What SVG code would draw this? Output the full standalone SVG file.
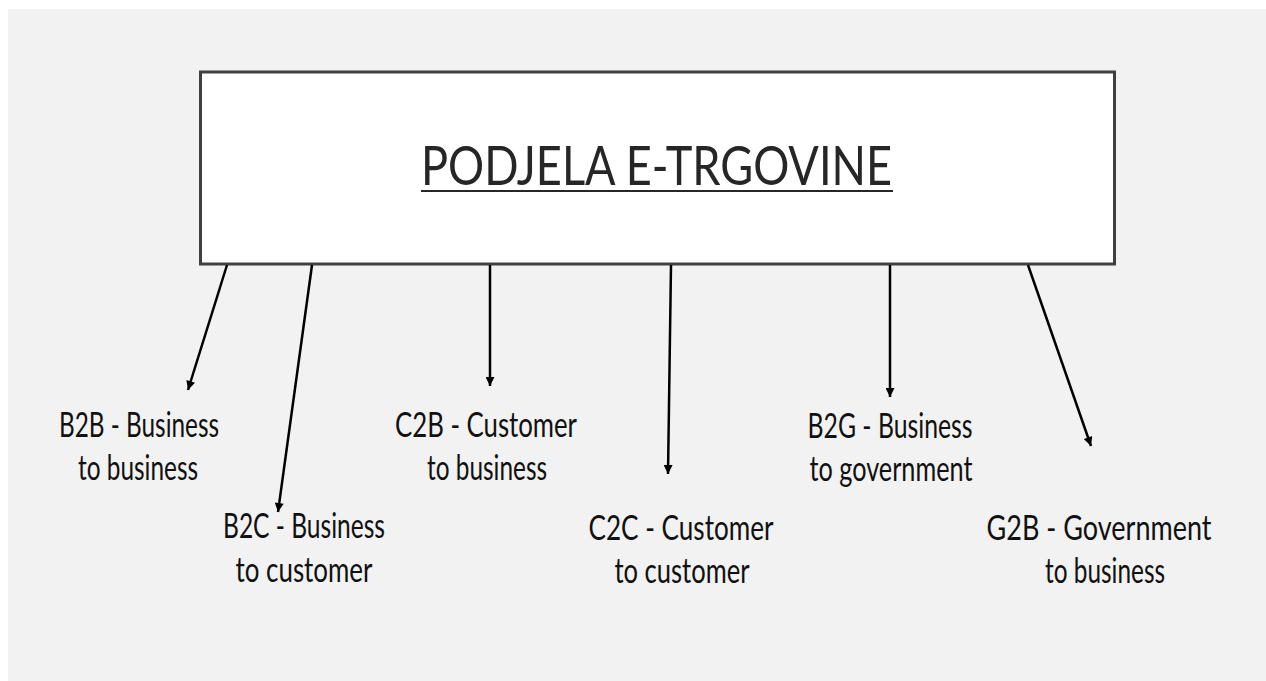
<svg xmlns="http://www.w3.org/2000/svg" width="1266" height="681" viewBox="0 0 1266 681">
  <defs>
    <marker id="ah" viewBox="0 0 10 10" refX="10" refY="5" markerWidth="11" markerHeight="9" markerUnits="userSpaceOnUse" orient="auto">
      <path d="M0,0 L10,5 L0,10 z" fill="#000"/>
    </marker>
    <style>
      .lbl { font-family: Lato, "Open Sans", sans-serif; font-size: 34px; fill: #111; text-anchor: middle; }
      .title { font-family: Lato, "Open Sans", sans-serif; font-size: 55px; fill: #262626; }
      .conn line { stroke: #000; stroke-width: 2.5; marker-end: url(#ah); }
    </style>
  </defs>
  <rect x="0" y="0" width="1266" height="681" fill="#ffffff"/>
  <rect x="8" y="9" width="1258" height="672" fill="#f2f2f2"/>

  <g id="root">
    <rect x="200.5" y="72" width="914" height="192" fill="#ffffff" stroke="#404040" stroke-width="3"/>
    <text class="title" x="421" y="185" textLength="471" lengthAdjust="spacingAndGlyphs">PODJELA E-TRGOVINE</text>
    <line x1="421" y1="191" x2="893" y2="191" stroke="#262626" stroke-width="2"/>
  </g>

  <g id="connectors" class="conn">
    <line x1="227" y1="265" x2="188" y2="390"/>
    <line x1="312" y1="265" x2="278" y2="512"/>
    <line x1="490" y1="265" x2="490" y2="386"/>
    <line x1="671" y1="265" x2="668" y2="474"/>
    <line x1="890" y1="265" x2="890" y2="397"/>
    <line x1="1028" y1="265" x2="1091" y2="446"/>
  </g>

  <g id="b2b">
    <text class="lbl" x="139" y="437" textLength="160" lengthAdjust="spacingAndGlyphs">B2B - Business</text>
    <text class="lbl" x="138" y="480" textLength="120" lengthAdjust="spacingAndGlyphs">to business</text>
  </g>
  <g id="b2c">
    <text class="lbl" x="304" y="538" textLength="162" lengthAdjust="spacingAndGlyphs">B2C - Business</text>
    <text class="lbl" x="304" y="582" textLength="137" lengthAdjust="spacingAndGlyphs">to customer</text>
  </g>
  <g id="c2b">
    <text class="lbl" x="486" y="437" textLength="182" lengthAdjust="spacingAndGlyphs">C2B - Customer</text>
    <text class="lbl" x="487" y="480" textLength="120" lengthAdjust="spacingAndGlyphs">to business</text>
  </g>
  <g id="c2c">
    <text class="lbl" x="681" y="540" textLength="185" lengthAdjust="spacingAndGlyphs">C2C - Customer</text>
    <text class="lbl" x="682" y="583" textLength="135" lengthAdjust="spacingAndGlyphs">to customer</text>
  </g>
  <g id="b2g">
    <text class="lbl" x="890" y="438" textLength="165" lengthAdjust="spacingAndGlyphs">B2G - Business</text>
    <text class="lbl" x="891" y="481" textLength="163" lengthAdjust="spacingAndGlyphs">to government</text>
  </g>
  <g id="g2b">
    <text class="lbl" x="1099" y="540" textLength="225" lengthAdjust="spacingAndGlyphs">G2B - Government</text>
    <text class="lbl" x="1105" y="583" textLength="120" lengthAdjust="spacingAndGlyphs">to business</text>
  </g>
</svg>
